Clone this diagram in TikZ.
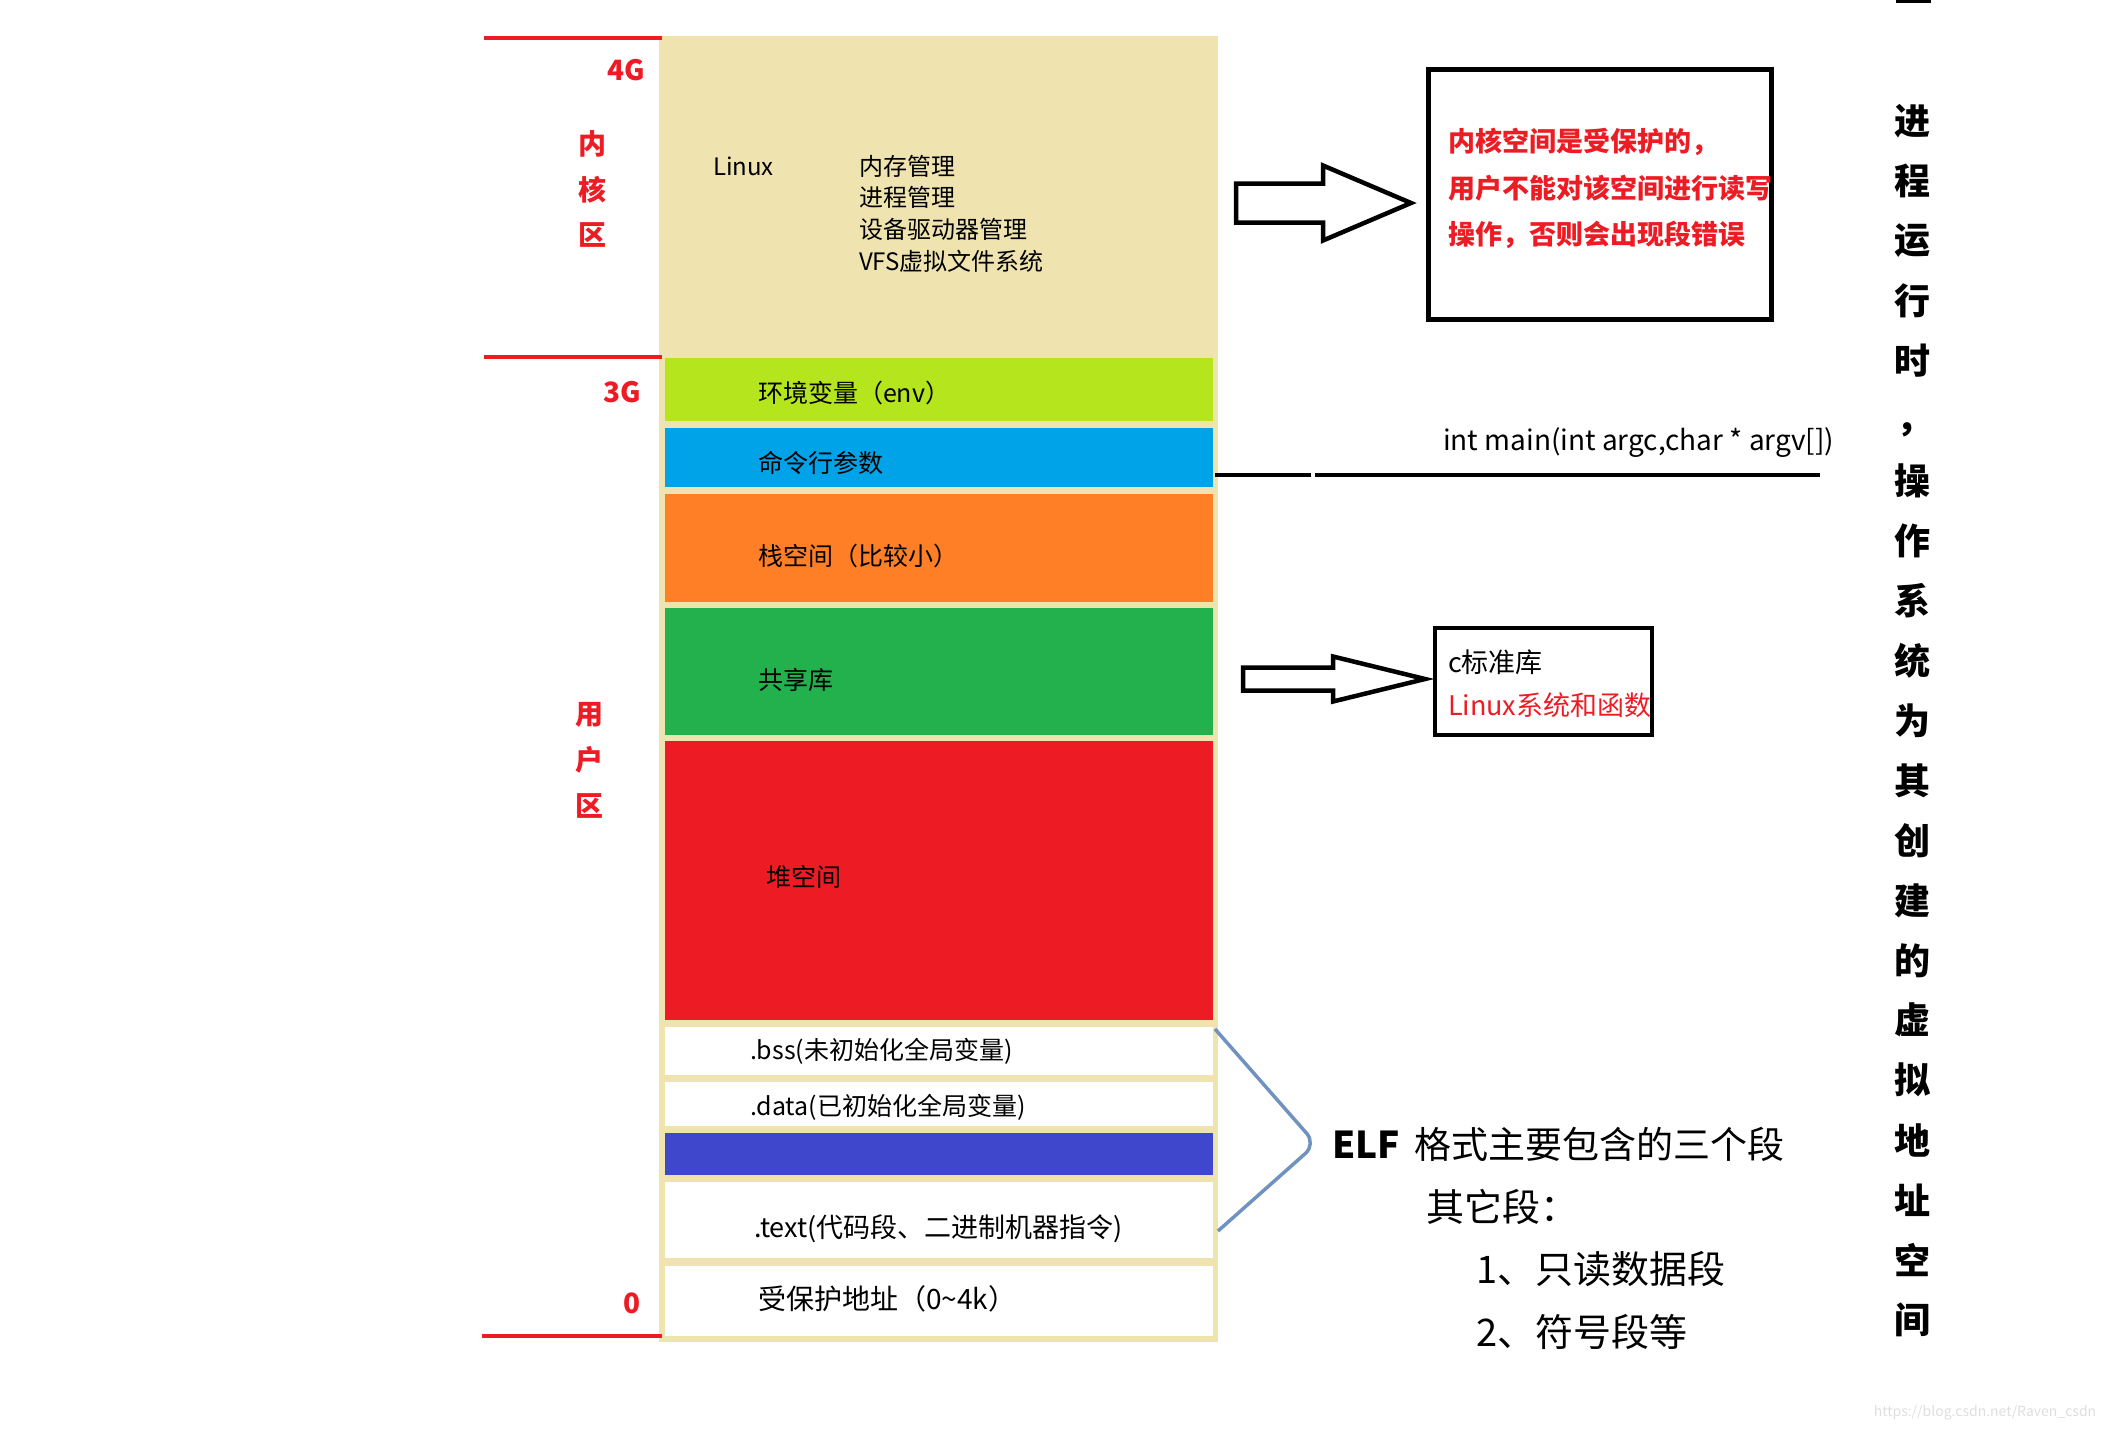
\documentclass[tikz,border=0pt]{standalone}
\usepackage{fontspec}
\setmainfont{Noto Sans CJK SC}
\definecolor{membeige}{HTML}{EFE4B0}
\definecolor{memlime}{HTML}{B5E61D}
\definecolor{memcyan}{HTML}{00A2E8}
\definecolor{memorange}{HTML}{FF7F27}
\definecolor{memgreen}{HTML}{22B14C}
\definecolor{memred}{HTML}{ED1C24}
\definecolor{memindigo}{HTML}{3F48CC}
\definecolor{memsteel}{HTML}{7092BE}
\begin{document}
\begin{tikzpicture}[
 x=1pt,y=-1pt,
 every node/.style={inner sep=0pt,outer sep=0pt},
 band/.style={minimum width=548pt},
 bandtext/.style={anchor=west},
 kerntext/.style={anchor=west,font=\fontsize{24}{28}\selectfont},
 redtag/.style={text=memred,font=\bfseries\fontsize{28}{32}\selectfont},
 bound/.style={draw=memred,line width=4.5pt},
 blockarrow/.style={draw,line width=4.5pt,fill=white,line join=miter},
 infobox/.style={draw,line width=5pt},
 warntext/.style={anchor=west,text=memred,font=\bfseries\fontsize{27}{32}\selectfont},
 libtext/.style={anchor=west,font=\fontsize{27}{32}\selectfont},
 vchar/.style={font=\bfseries\fontsize{36}{40}\selectfont},
 elftext/.style={anchor=west,font=\fontsize{38}{44}\selectfont}]
 \useasboundingbox (0,0) rectangle (2110,1430);
 % memory column
 \fill[membeige] (659,36) rectangle (1218,1342);
 \foreach \yt/\yb/\bandcol/\tx/\ty/\fs/\lab [count=\i] in {
   358/421/memlime/758/393/25/{环境变量（env）},
   428/487/memcyan/758/463/25/{命令行参数},
   494/602/memorange/758/556/25/{栈空间（比较小）},
   608/735/memgreen/758/680/25/{共享库},
   741/1020/memred/766/877/25/{堆空间},
   1027/1075/white/750/1051/25/{.bss(未初始化全局变量)},
   1082/1126/white/750/1107/25/{.data(已初始化全局变量)},
   1182/1258/white/754/1229/27/{.text(代码段、二进制机器指令)},
   1266/1336/white/758/1299/28/{受保护地址（0\textasciitilde4k）}}{
  \node[band,fill=\bandcol,minimum height={(\yb-\yt)*1pt}] (seg\i) at (939,{(\yt+\yb)/2}) {};
  \node[bandtext,font=\fontsize{\fs}{\fs}\selectfont] (seglab\i) at (\tx,\ty) {\lab};
 }
 \node[band,fill=memindigo,minimum height=42pt] (segro) at (939,1154) {};
 % kernel part
 \node[kerntext] (linux) at (713,166) {Linux};
 \foreach \lab [count=\k from 0] in {内存管理,进程管理,设备驱动器管理,VFS虚拟文件系统}
  \node[kerntext] (kern\k) at (859,{166+\k*31.7}) {\lab};
 % boundaries and tags
 \coordinate (top) at (484,38); \coordinate (mid) at (484,357); \coordinate (low) at (482,1336);
 \draw[bound] (top)--(662,38) (mid)--(662,357) (low)--(662,1336);
 \node[redtag] (g4) at (626,70){4G};
 \node[redtag] (g3) at (622,392){3G};
 \node[redtag] (g0) at (632,1303){0};
 \foreach \ch/\yy in {内/144,核/190,区/235} \node[redtag] (kz\yy) at (592,\yy){\ch};
 \foreach \ch/\yy in {用/715,户/760,区/806} \node[redtag] (uz\yy) at (589,\yy){\ch};
 % block arrows and boxes
 \foreach \ax/\ay/\hx/\tipx/\sw/\hw in {1236/203/1323/1411/19.5/37.5,1243/679/1333/1425/11.5/22.5}
  \draw[blockarrow] (\ax,{\ay-\sw})--(\hx,{\ay-\sw})--(\hx,{\ay-\hw})--(\tipx,\ay)
   --(\hx,{\ay+\hw})--(\hx,{\ay+\sw})--(\ax,{\ay+\sw})--cycle;
 \node[infobox,minimum width=343pt,minimum height=250pt] (kernbox) at (1600,194.5){};
 \foreach \lab [count=\k from 0] in {内核空间是受保护的，,用户不能对该空间进行读写,操作，否则会出现段错误}
  \node[warntext] (warn\k) at (1448,{142+\k*46.5}) {\lab};
 \node[infobox,line width=4.5pt,minimum width=217pt,minimum height=107pt] (libbox) at (1543.5,681.5){};
 \node[libtext] (clib) at (1448,662){c标准库};
 \node[libtext,text=memred] (linlib) at (1448,705){Linux系统和函数};
 % argv line
 \node[anchor=west,font=\fontsize{28}{32}\selectfont] (mainsig) at (1443,443){int main(int argc,char * argv[])};
 \coordinate (argva) at (1215,475); \coordinate (argvb) at (1315,475);
 \draw[line width=4pt] (argva)--(1311,475) (argvb)--(1820,475);
 % elf segments
 \draw[memsteel,line width=3.5pt,rounded corners=14pt] (seg6.east)++(2,-22)--(1316,1144)--(1218,1231);
 \node[elftext,font=\fontsize{37}{44}\selectfont] (elf) at (1332,1144){\textbf{ELF}\hspace{15pt}格式主要包含的三个段};
 \node[elftext] (other) at (1426,1207){其它段：};
 \node[elftext] (ro) at (1476,1269){1、只读数据段};
 \node[elftext] (sym) at (1476,1332){2、符号段等};
 % vertical note
 \fill (1896,0) rectangle (1931,3);
 \foreach \ch [count=\k from 0] in {进,程,运,行,时,，,操,作,系,统,为,其,创,建,的,虚,拟,地,址,空,间}{
  \ifnum\k=5 \node[vchar] (vt\k) at (1914,{130+\k*59.95}) {\ch};
  \else \node[vchar] (vt\k) at (1912,{121+\k*59.95}) {\ch}; \fi
 }
 \node[text=black!13,font=\fontsize{14}{16}\selectfont] (mark) at (1985,1413){https://blog.csdn.net/Raven\_csdn};
\end{tikzpicture}
\end{document}
